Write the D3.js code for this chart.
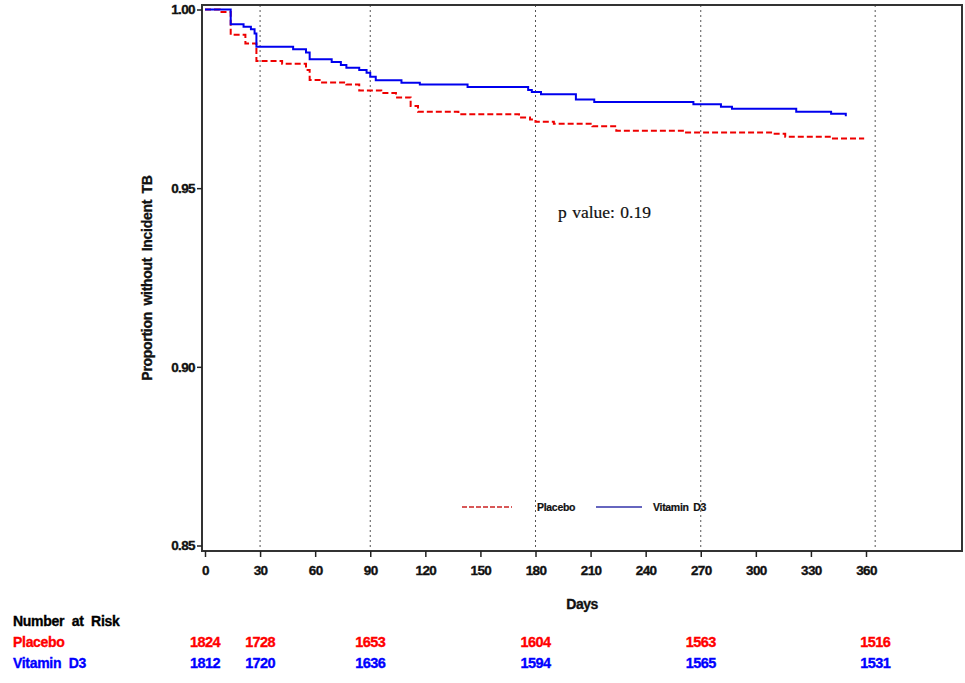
<!DOCTYPE html>
<html>
<head>
<meta charset="utf-8">
<script src="https://cdn.jsdelivr.net/npm/d3@7"></script>
<style>
  html, body { margin: 0; padding: 0; background: #fff; }
  svg { display: block; font-family: "Liberation Sans", Arial, sans-serif; }
</style>
</head>
<body>
<svg id="chart" width="965" height="683"></svg>
<script>
// ---- Data ----
const placeboDays = [0, 8, 14, 22, 28, 42, 55, 57, 63, 77, 84, 96, 104, 112, 116, 138, 171, 177, 180, 190, 211, 224, 262, 309, 316, 342, 359];
const placeboSurv = [1.0, 0.9993, 0.9929, 0.9905, 0.9856, 0.9848, 0.9831, 0.9803, 0.9796, 0.9790, 0.9773, 0.9766, 0.9754, 0.9730, 0.9714, 0.9707, 0.9698, 0.9692, 0.9686, 0.9680, 0.9673, 0.9661, 0.9656, 0.9652, 0.9644, 0.9639, 0.9639];
const vitaminDays = [0, 14, 21, 25, 27, 28, 48, 55, 57, 69, 74, 77, 84, 88, 90, 93, 107, 117, 143, 176, 178, 183, 202, 212, 266, 281, 287, 322, 341, 349];
const vitaminSurv = [1.0, 0.9959, 0.9952, 0.9945, 0.9933, 0.9896, 0.9889, 0.9880, 0.9861, 0.9853, 0.9845, 0.9837, 0.9831, 0.9823, 0.9812, 0.9802, 0.9795, 0.9790, 0.9783, 0.9775, 0.9769, 0.9763, 0.9748, 0.9741, 0.9735, 0.9728, 0.9722, 0.9714, 0.9708, 0.9701];
const xTicks = [0, 30, 60, 90, 120, 150, 180, 210, 240, 270, 300, 330, 360];
const yTicks = [0.85, 0.90, 0.95, 1.00];
const refLineDays = [30, 90, 180, 270, 365];
const riskDays = [0, 30, 90, 180, 270, 365];
const riskPlacebo = [1824, 1728, 1653, 1604, 1563, 1516];
const riskVitamin = [1812, 1720, 1636, 1594, 1565, 1531];
const groupNames = ["Placebo", "Vitamin D3"];
const groupColors = ["#ff0000", "#0000ff"];
const pValueText = "p value: 0.19";

// ---- Layout ----
const svg = d3.select("#chart");
const frame = { left: 202, top: 5, right: 962, bottom: 551 };
const x = d3.scaleLinear().domain([0, 360]).range([205, 866]);
const y = d3.scaleLinear().domain([0.85, 1.00]).range([545.5, 9.5]);

function boldText(sel, size, color) {
  return sel.style("font-family", "'Liberation Sans', Arial, sans-serif")
    .attr("font-size", size).attr("font-weight", "bold")
    .attr("fill", color).attr("stroke", color).attr("stroke-width", 0.35);
}

// reference dotted lines
svg.append("g").selectAll("line").data(refLineDays).join("line")
  .attr("x1", d => x(d)).attr("x2", d => x(d))
  .attr("y1", frame.top).attr("y2", frame.bottom)
  .attr("stroke", "#555").attr("stroke-width", 1)
  .attr("stroke-dasharray", "2,3");

// frame
svg.append("rect")
  .attr("x", frame.left).attr("y", frame.top)
  .attr("width", frame.right - frame.left).attr("height", frame.bottom - frame.top)
  .attr("fill", "none").attr("stroke", "#333").attr("stroke-width", 2);

// x axis
const xAxis = svg.append("g")
  .attr("transform", `translate(0,${frame.bottom})`)
  .call(d3.axisBottom(x).tickValues(xTicks).tickSize(6).tickPadding(8).tickFormat(d3.format("d")));
xAxis.select(".domain").remove();
xAxis.selectAll("line").attr("stroke", "#222").attr("stroke-width", 1.5);
boldText(xAxis.selectAll("text"), "13.5px", "#111").attr("letter-spacing", "-0.6px");

// y axis
const yAxis = svg.append("g")
  .attr("transform", `translate(${frame.left},0)`)
  .call(d3.axisLeft(y).tickValues(yTicks).tickSize(5).tickPadding(2).tickFormat(d3.format(".2f")));
yAxis.select(".domain").remove();
yAxis.selectAll("line").attr("stroke", "#222").attr("stroke-width", 1.5);
boldText(yAxis.selectAll("text"), "13.5px", "#111").attr("letter-spacing", "-0.6px");

// axis titles
boldText(svg.append("text"), "14px", "#111")
  .attr("transform", "translate(152,278) rotate(-90)")
  .attr("text-anchor", "middle")
  .attr("letter-spacing", "-0.3px").attr("word-spacing", "3px")
  .text("Proportion without Incident TB");
boldText(svg.append("text"), "14px", "#111")
  .attr("x", 582).attr("y", 609)
  .attr("text-anchor", "middle")
  .attr("letter-spacing", "-0.5px")
  .text("Days");

// curves
const line = d3.line().x(d => x(d[0])).y(d => y(d[1])).curve(d3.curveStepAfter);
const placeboData = d3.zip(placeboDays, placeboSurv);
const vitaminData = d3.zip(vitaminDays, vitaminSurv);
svg.append("path").datum(placeboData)
  .attr("d", line).attr("fill", "none")
  .attr("stroke", "#ee0000").attr("stroke-width", 2)
  .attr("stroke-dasharray", "6,3");
svg.append("path").datum(vitaminData)
  .attr("d", line).attr("fill", "none")
  .attr("stroke", "#0000ee").attr("stroke-width", 2);

// p value
svg.append("text")
  .attr("x", 558).attr("y", 218)
  .style("font-family", "'Liberation Serif', 'Times New Roman', serif")
  .attr("font-size", "17.5px").attr("fill", "#111")
  .attr("stroke", "#111").attr("stroke-width", 0.2)
  .attr("word-spacing", "1px")
  .text(pValueText);

// legend
const legend = svg.append("g");
legend.append("line").attr("x1", 462).attr("x2", 512).attr("y1", 507).attr("y2", 507)
  .attr("stroke", "#cc2222").attr("stroke-width", 1.3).attr("stroke-dasharray", "5,2");
boldText(legend.append("text"), "10.5px", "#111").attr("stroke-width", 0.2)
  .attr("x", 537).attr("y", 511)
  .attr("letter-spacing", "-0.3px").text(groupNames[0]);
legend.append("line").attr("x1", 596).attr("x2", 642).attr("y1", 507).attr("y2", 507)
  .attr("stroke", "#3333aa").attr("stroke-width", 1.3);
boldText(legend.append("text"), "10.5px", "#111").attr("stroke-width", 0.2)
  .attr("x", 653).attr("y", 511)
  .attr("letter-spacing", "-0.3px").attr("word-spacing", "2px").text(groupNames[1]);

// number at risk table
boldText(svg.append("text"), "14px", "#000")
  .attr("x", 13).attr("y", 626)
  .attr("letter-spacing", "-0.3px").attr("word-spacing", "4px")
  .text("Number at Risk");
const riskRows = [riskPlacebo, riskVitamin];
const rowY = [647, 668];
riskRows.forEach((vals, i) => {
  boldText(svg.append("text"), "14px", groupColors[i])
    .attr("x", 13).attr("y", rowY[i])
    .attr("letter-spacing", "-0.3px").attr("word-spacing", "4px")
    .text(groupNames[i]);
  boldText(svg.append("g").selectAll("text").data(vals).join("text"), "14.5px", groupColors[i])
    .attr("x", (d, j) => x(riskDays[j]))
    .attr("y", rowY[i])
    .attr("text-anchor", "middle")
    .attr("letter-spacing", "-0.6px")
    .text(d => d);
});
</script>
</body>
</html>
